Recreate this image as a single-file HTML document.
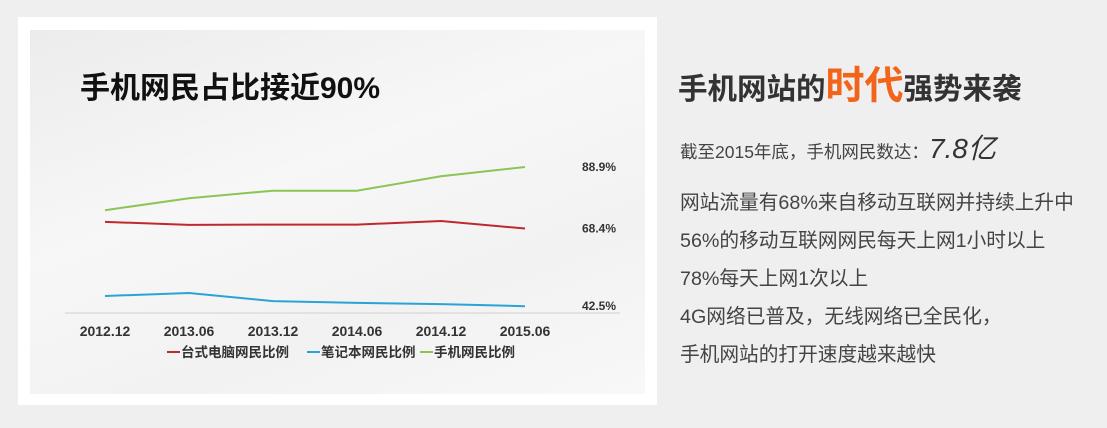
<!DOCTYPE html>
<html><head><meta charset="utf-8">
<style>
body{margin:0;width:1107px;height:428px;background:#efefef;position:relative;overflow:hidden;font-family:"Liberation Sans","Noto Sans CJK SC",sans-serif;}
.card{position:absolute;left:18px;top:17px;width:639px;height:388px;background:#fff;}
.inner{position:absolute;left:12px;top:13px;width:615px;height:364px;background:linear-gradient(160deg,#ececec 0%,#f7f7f7 40%,#f2f2f2 70%,#f8f8f8 100%);}
.ctitle{position:absolute;left:80px;top:63px;font-size:30px;font-weight:bold;color:#111;white-space:nowrap;}
.rt{position:absolute;left:678px;top:55px;font-size:29.5px;font-weight:bold;color:#333;white-space:nowrap;}
.rt .o{color:#f26419;font-size:39px;}
.line{position:absolute;left:680px;font-size:19.7px;color:#444;white-space:nowrap;line-height:24px;}
</style></head><body>
<div class="card"><div class="inner"></div></div>
<div class="ctitle">手机网民占比接近90%</div>
<svg id="chart" width="1107" height="428" style="position:absolute;left:0;top:0"></svg>
<div class="rt">手机网站的<span class="o">时代</span>强势来袭</div>
<div class="line" style="top:137px;font-size:17.5px">截至2015年底，手机网民数达：<span style="font-size:28px;font-style:italic;color:#333">7.8亿</span></div>
<div class="line" style="top:191px">网站流量有68%来自移动互联网并持续上升中</div>
<div class="line" style="top:229px">56%的移动互联网网民每天上网1小时以上</div>
<div class="line" style="top:267px">78%每天上网1次以上</div>
<div class="line" style="top:305px">4G网络已普及，无线网络已全民化，</div>
<div class="line" style="top:343px">手机网站的打开速度越来越快</div>
<script>
const categories=["2012.12","2013.06","2013.12","2014.06","2014.12","2015.06"];
const desktop=[70.6,69.6,69.7,69.7,70.9,68.4];
const laptop=[45.9,46.9,44.2,43.6,43.2,42.5];
const mobile=[74.5,78.5,81.0,81.0,85.8,88.9];
const seriesNames=["台式电脑网民比例","笔记本网民比例","手机网民比例"];
const NS="http://www.w3.org/2000/svg";
const svg=document.getElementById('chart');
const x=i=>105+i*84;
const y=v=>167+(88.9-v)*3;
function mk(t,a){const e=document.createElementNS(NS,t);for(const k in a)e.setAttribute(k,a[k]);svg.appendChild(e);return e;}
const ax=mk('line',{x1:65,x2:620,y1:313,y2:313,stroke:'#d0d0d0','stroke-width':1});


categories.forEach((c,i)=>{const t=mk('text',{x:x(i),y:336,'text-anchor':'middle','font-size':14,'font-weight':'bold',fill:'#333'});t.textContent=c;

});
const colors=['#c0282d','#2aa3d6','#8cc456'];
[desktop,laptop,mobile].forEach((s,k)=>{
 const p=mk('polyline',{points:s.map((v,i)=>x(i)+','+y(v)).join(' '),fill:'none',stroke:colors[k],'stroke-width':2});
 
 
 const l=mk('text',{x:582,y:y(s[5])+4,'text-anchor':'start','font-size':12,'font-weight':'bold',fill:'#333'});
 l.textContent=s[5].toFixed(1)+'%';
 
 
});
const lx=[167,307,420];
seriesNames.forEach((n,k)=>{
 const ln=mk('line',{x1:lx[k],x2:lx[k]+13,y1:352,y2:352,stroke:colors[k],'stroke-width':2});
 
 
 const t=mk('text',{x:lx[k]+14,y:357,'font-size':13.5,'font-weight':'bold',fill:'#333'});
 t.textContent=n;
 
 
});
</script>
</body></html>
